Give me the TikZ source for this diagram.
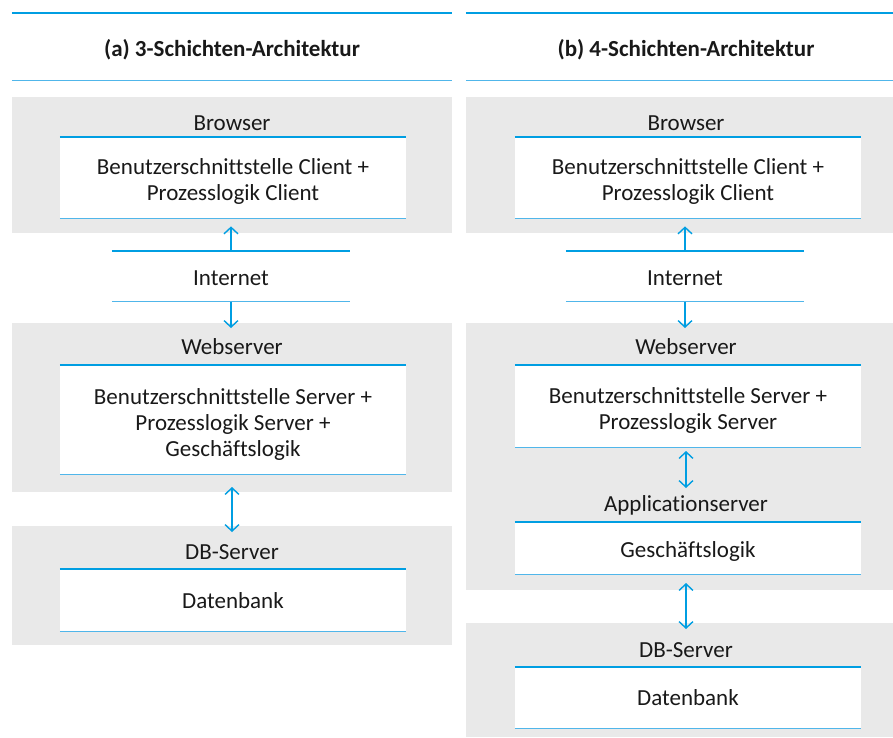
\documentclass[tikz,border=0pt]{standalone}
\usepackage{fontspec}
\setmainfont[Ligatures=NoCommon]{Carlito}
\usetikzlibrary{arrows.meta}
\definecolor{tierblue}{RGB}{0,158,226}
\definecolor{thinblue}{RGB}{80,182,234}
\definecolor{tiergrey}{RGB}{233,233,233}
\tikzset{>={Straight Barb[length=6.5pt,width=14pt]}}

\begin{document}
\begin{tikzpicture}[x=1pt, y=-1pt,
  every node/.style={font=\fontsize{23}{26}\selectfont, text=black!90, inner sep=0pt},
  head/.style={minimum height=67pt},
  tier/.style={fill=tiergrey, anchor=north west},
  lbl/.style={anchor=base},
  layer/.style={fill=white, minimum width=346pt, anchor=north},
  txt/.style={align=center},
  net/.style={minimum width=238pt, minimum height=50pt},
  topline/.style={tierblue, line width=1.8pt},
  botline/.style={thinblue, line width=1.1pt},
  flow/.style={tierblue, line width=1.4pt}]
\useasboundingbox (0,0) rectangle (893,737);

% (a) three tiers
\node[head, minimum width=440pt] (headA) at (232,46.5) {};
\node[lbl, font=\bfseries\fontsize{23}{26}\selectfont] (titleA) at (232,56) {(a) 3-Schichten-Architektur};
\draw[topline] (headA.north west) -- (headA.north east);
\draw[botline] (headA.south west) -- (headA.south east);

\node[tier, minimum width=440pt, minimum height=136pt] (browserA) at (12,97) {};
\node[lbl] (browserAlbl) at (232,130) {Browser};
\node[layer, minimum height=81pt] (cliA) at (233,137) {};
\node[txt] (cliAtxt) at ([yshift=-4pt]cliA.center) {Benutzerschnittstelle Client +\\Prozesslogik Client};

\node[net] (netA) at (231,276.5) {};
\node[lbl] (netAlbl) at (231,285) {Internet};

\node[tier, minimum width=440pt, minimum height=169pt] (webA) at (12,323) {};
\node[lbl] (webAlbl) at (232,354) {Webserver};
\node[layer, minimum height=109pt] (srvA) at (233,365) {};
\node[txt] (srvAtxt) at ([yshift=-4.5pt]srvA.center) {Benutzerschnittstelle Server +\\Prozesslogik Server +\\Geschäftslogik};

\node[tier, minimum width=440pt, minimum height=119pt] (dbA) at (12,526) {};
\node[lbl] (dbAlbl) at (232,559) {DB-Server};
\node[layer, minimum height=62pt] (datA) at (233,569) {Datenbank};

\foreach \n in {cliA,netA,srvA,datA} {
  \draw[topline] (\n.north west) -- (\n.north east);
  \draw[botline] (\n.south west) -- (\n.south east);
}

\draw[flow, ->, shorten >=8pt] (netA.north) -- (netA.north |- cliA.south);
\draw[flow, ->, shorten >=-5pt] (netA.south) -- (netA.south |- webA.north);
\draw[flow, <->, shorten <=13pt, shorten >=-6pt] (232,474) coordinate (srvAout) -- (srvAout |- dbA.north);

% (b) four tiers
\node[head, minimum width=427pt] (headB) at (679.5,46.5) {};
\node[lbl, font=\bfseries\fontsize{23}{26}\selectfont] (titleB) at (686,56) {(b) 4-Schichten-Architektur};
\draw[topline] (headB.north west) -- (headB.north east);
\draw[botline] (headB.south west) -- (headB.south east);

\node[tier, minimum width=427pt, minimum height=136pt] (browserB) at (466,97) {};
\node[lbl] (browserBlbl) at (686,130) {Browser};
\node[layer, minimum height=81pt] (cliB) at (688,137) {};
\node[txt] (cliBtxt) at ([yshift=-4pt]cliB.center) {Benutzerschnittstelle Client +\\Prozesslogik Client};

\node[net] (netB) at (685,276.5) {};
\node[lbl] (netBlbl) at (685,285) {Internet};

\node[tier, minimum width=427pt, minimum height=267pt] (webB) at (466,323) {};
\node[lbl] (webBlbl) at (686,354) {Webserver};
\node[layer, minimum height=82pt] (srvB) at (688,365) {};
\node[txt] (srvBtxt) at ([yshift=-4.5pt]srvB.center) {Benutzerschnittstelle Server +\\Prozesslogik Server};
\node[lbl] (appBlbl) at (686,511) {Applicationserver};
\node[layer, minimum height=52pt] (logB) at (688,522) {};
\node[txt] (logBtxt) at ([yshift=-3pt]logB.center) {Geschäftslogik};

\node[tier, minimum width=427pt, minimum height=114pt] (dbB) at (466,623) {};
\node[lbl] (dbBlbl) at (686,657) {DB-Server};
\node[layer, minimum height=61pt] (datB) at (688,667) {Datenbank};

\foreach \n in {cliB,netB,srvB,logB,datB} {
  \draw[topline] (\n.north west) -- (\n.north east);
  \draw[botline] (\n.south west) -- (\n.south east);
}

\draw[flow, ->, shorten >=8pt] (netB.north) -- (netB.north |- cliB.south);
\draw[flow, ->, shorten >=-5pt] (netB.south) -- (netB.south |- webB.north);
\draw[flow, <->, shorten <=4pt, shorten >=34pt] (686,447) coordinate (srvBout) -- (srvBout |- logB.north);
\draw[flow, <->, shorten <=9pt, shorten >=-6pt] (686,574) coordinate (logBout) -- (logBout |- dbB.north);
\end{tikzpicture}
\end{document}
